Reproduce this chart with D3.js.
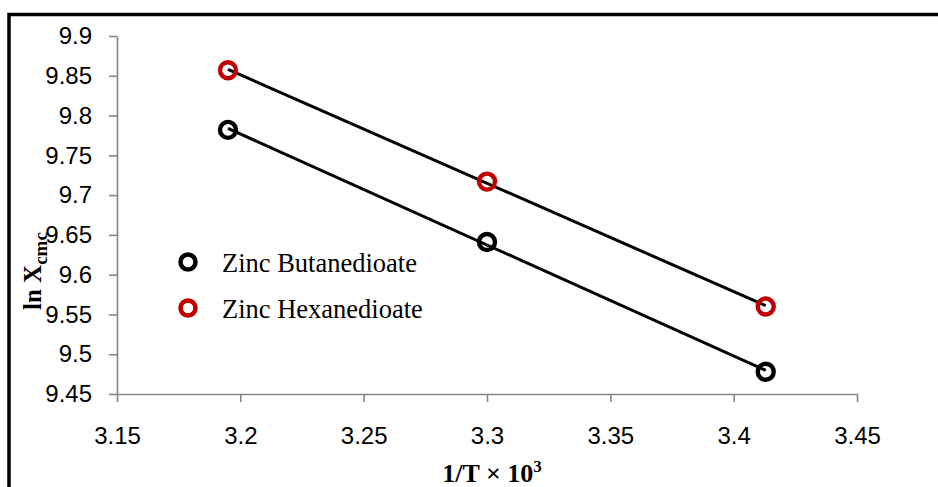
<!DOCTYPE html>
<html>
<head>
<meta charset="utf-8">
<script src="https://cdn.jsdelivr.net/npm/d3@7"></script>
<style>
  body { margin: 0; background: #fff; }
  svg { display: block; }
  .axis path, .axis line { stroke: #868686; stroke-width: 1.6px; }
  .axis text { font-family: "Liberation Sans", Arial, sans-serif; font-size: 24px; fill: #000; }
</style>
</head>
<body>
<div id="chart"></div>
<script>
// datos
const invT = [3.195, 3.300, 3.413];
const butanedioate = [9.782, 9.641, 9.478];
const hexanedioate = [9.857, 9.717, 9.560];
const seriesNames = ['Zinc Butanedioate', 'Zinc Hexanedioate'];
const seriesColors = ['#000000', '#C00000'];
const xTicks = [3.15, 3.2, 3.25, 3.3, 3.35, 3.4, 3.45];
const yTicks = [9.45, 9.5, 9.55, 9.6, 9.65, 9.7, 9.75, 9.8, 9.85, 9.9];

const ancho = 938, alto = 487;
const plot = { left: 117, right: 857, top: 36, bottom: 394 };

const svg = d3.select('#chart').append('svg')
    .attr('width', ancho)
    .attr('height', alto);

// marco negro exterior
svg.append('path')
    .attr('d', 'M9,' + (alto + 5) + 'V14.5H' + (ancho + 5))
    .attr('fill', 'none')
    .attr('stroke', '#000')
    .attr('stroke-width', 3.5);

const x = d3.scaleLinear().domain([3.15, 3.45]).range([plot.left, plot.right]);
const y = d3.scaleLinear().domain([9.45, 9.9]).range([plot.bottom, plot.top]);

svg.append('g')
    .attr('class', 'axis')
    .attr('transform', 'translate(0,' + plot.bottom + ')')
    .call(d3.axisBottom(x).tickValues(xTicks).tickFormat(d3.format('')).tickSize(8).tickSizeOuter(0).tickPadding(25));

svg.append('g')
    .attr('class', 'axis')
    .attr('transform', 'translate(' + plot.left + ',0)')
    .call(d3.axisLeft(y).tickValues(yTicks).tickFormat(d3.format('')).tickSize(8).tickSizeOuter(0).tickPadding(17));

// lineas de tendencia (minimos cuadrados)
function regresion(xs, ys) {
    const mx = d3.mean(xs), my = d3.mean(ys);
    let sxy = 0, sxx = 0;
    xs.forEach((v, i) => { sxy += (v - mx) * (ys[i] - my); sxx += (v - mx) * (v - mx); });
    const m = sxy / sxx;
    return v => my + m * (v - mx);
}

const series = [butanedioate, hexanedioate];
const xExt = d3.extent(invT);

series.forEach((vals, s) => {
    const f = regresion(invT, vals);
    svg.append('line')
        .attr('x1', x(xExt[0])).attr('y1', y(f(xExt[0])))
        .attr('x2', x(xExt[1])).attr('y2', y(f(xExt[1])))
        .attr('stroke', '#000')
        .attr('stroke-width', 3);
});

series.forEach((vals, s) => {
    svg.append('g').selectAll('circle')
        .data(vals)
        .enter().append('circle')
        .attr('cx', (d, i) => x(invT[i]))
        .attr('cy', d => y(d))
        .attr('r', 8)
        .attr('fill', 'none')
        .attr('stroke', seriesColors[s])
        .attr('stroke-width', 4.4);
});

// leyenda
const legend = svg.append('g');
seriesNames.forEach((name, i) => {
    const ly = 262 + i * 46;
    legend.append('circle')
        .attr('cx', 188).attr('cy', ly).attr('r', 7.5)
        .attr('fill', 'none')
        .attr('stroke', seriesColors[i])
        .attr('stroke-width', 4.5);
    legend.append('text')
        .attr('x', 222).attr('y', ly + 10)
        .style('font-family', '"Liberation Serif", "Times New Roman", serif')
        .style('font-size', '26.5px')
        .text(name);
});

// titulos de ejes
const yt = svg.append('text')
    .attr('transform', 'translate(41,310) rotate(-90)')
    .style('font-family', '"Liberation Serif", "Times New Roman", serif')
    .style('font-weight', 'bold')
    .style('font-size', '25px');
yt.append('tspan').text('ln X');
yt.append('tspan').attr('dy', 6).style('font-size', '19px').text('cmc');

const xt = svg.append('text')
    .attr('x', 492).attr('y', 482)
    .attr('text-anchor', 'middle')
    .style('font-family', '"Liberation Serif", "Times New Roman", serif')
    .style('font-weight', 'bold')
    .style('font-size', '26px');
xt.append('tspan').text('1/T \u00d7 10');
xt.append('tspan').attr('dy', -10).style('font-size', '17px').text('3');
</script>
</body>
</html>
